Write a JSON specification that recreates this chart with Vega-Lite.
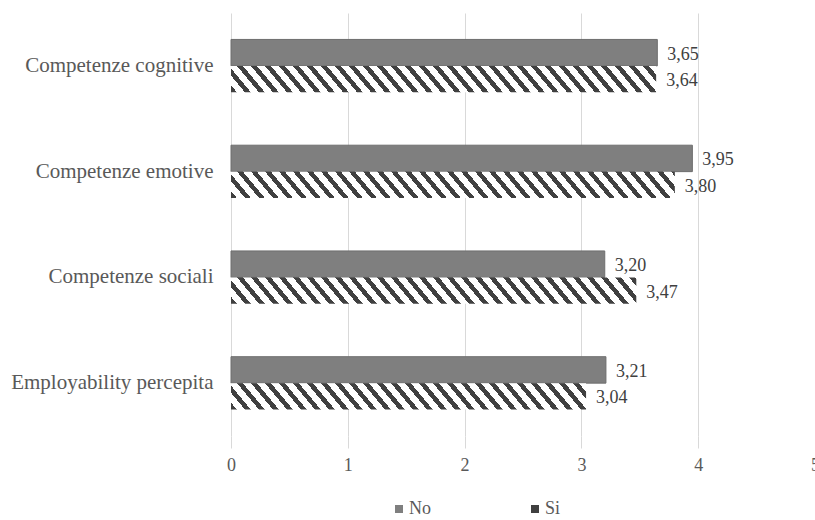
{
"$schema": "https://vega.github.io/schema/vega-lite/v6.json",
"width": 584, "height": 423,
"autosize": {"type": "none"},
"padding": {"left": 231, "top": 13, "right": 0, "bottom": 84},
"background": "white",
"config": {"view": {"stroke": null}, "font": "Times New Roman",
 "locale": {"number": {"decimal": ",", "thousands": ".", "grouping": [3], "currency": ["", " €"]}}},
"data": {"values": [
 {"cat": "Competenze cognitive", "group": "No", "value": 3.65},
 {"cat": "Competenze cognitive", "group": "Si", "value": 3.64},
 {"cat": "Competenze emotive", "group": "No", "value": 3.95},
 {"cat": "Competenze emotive", "group": "Si", "value": 3.80},
 {"cat": "Competenze sociali", "group": "No", "value": 3.20},
 {"cat": "Competenze sociali", "group": "Si", "value": 3.47},
 {"cat": "Employability percepita", "group": "No", "value": 3.21},
 {"cat": "Employability percepita", "group": "Si", "value": 3.04}
]},
"encoding": {
 "y": {"field": "cat", "type": "nominal", "sort": ["Competenze cognitive", "Competenze emotive", "Competenze sociali", "Employability percepita"],
  "scale": {"paddingInner": 0.5, "paddingOuter": 0.25},
  "axis": {"title": null, "domain": false, "ticks": false, "grid": false, "labelFont": "Times New Roman", "labelFontSize": 21, "labelColor": "#595959", "labelPadding": 18, "labelLimit": 300}},
 "yOffset": {"field": "group", "type": "nominal", "scale": {"domain": ["No", "Si"], "paddingInner": 0, "paddingOuter": 0}},
 "x": {"field": "value", "type": "quantitative", "scale": {"domain": [0, 5], "nice": false},
  "axis": {"title": null, "values": [0, 1, 2, 3, 4, 5], "domain": false, "tickColor": "#d9d9d9", "tickSize": 12, "gridColor": "#d9d9d9", "grid": true, "labelFont": "Times New Roman", "labelFontSize": 18, "labelColor": "#595959", "labelPadding": 8, "labelFlush": false, "labelOverlap": false}}
},
"layer": [
 {"transform": [{"filter": "datum.group === 'No'"}],
  "mark": {"type": "bar", "stroke": "#6e6e6e", "strokeWidth": 1},
  "encoding": {"color": {"field": "group", "type": "nominal", "scale": {"domain": ["No", "Si"], "range": ["#7f7f7f", "#404040"]},
   "legend": {"title": null, "orient": "none", "legendX": 159, "legendY": 487, "direction": "horizontal", "symbolSize": 64, "symbolStrokeWidth": 0, "labelFont": "Times New Roman", "labelFontSize": 18, "labelColor": "#595959", "labelOffset": 1, "columnPadding": 95,
    "encode": {"symbols": {"update": {"shape": {"signal": "datum.value === 'Si' ? 'M-0.3,-1L1,-1L1,0.3Z' : 'square'"}}}}}}}},
 {"transform": [{"filter": "datum.group === 'Si' && datum.cat === 'Competenze cognitive'"}],
  "mark": {"type": "bar", "fill": {"gradient": "linear", "x1": 0, "y1": 1, "x2": 1.049, "y2": 0.9456, "stops": [
{"offset":0,"color":"#404040"},{"offset":0.0131,"color":"#404040"},{"offset":0.0131,"color":"#fff"},{"offset":0.0313,"color":"#fff"},
{"offset":0.0313,"color":"#404040"},{"offset":0.0445,"color":"#404040"},{"offset":0.0445,"color":"#fff"},{"offset":0.0626,"color":"#fff"},
{"offset":0.0626,"color":"#404040"},{"offset":0.0758,"color":"#404040"},{"offset":0.0758,"color":"#fff"},{"offset":0.0939,"color":"#fff"},
{"offset":0.0939,"color":"#404040"},{"offset":0.1071,"color":"#404040"},{"offset":0.1071,"color":"#fff"},{"offset":0.1252,"color":"#fff"},
{"offset":0.1252,"color":"#404040"},{"offset":0.1384,"color":"#404040"},{"offset":0.1384,"color":"#fff"},{"offset":0.1565,"color":"#fff"},
{"offset":0.1565,"color":"#404040"},{"offset":0.1697,"color":"#404040"},{"offset":0.1697,"color":"#fff"},{"offset":0.1878,"color":"#fff"},
{"offset":0.1878,"color":"#404040"},{"offset":0.2010,"color":"#404040"},{"offset":0.2010,"color":"#fff"},{"offset":0.2191,"color":"#fff"},
{"offset":0.2191,"color":"#404040"},{"offset":0.2323,"color":"#404040"},{"offset":0.2323,"color":"#fff"},{"offset":0.2505,"color":"#fff"},
{"offset":0.2505,"color":"#404040"},{"offset":0.2636,"color":"#404040"},{"offset":0.2636,"color":"#fff"},{"offset":0.2818,"color":"#fff"},
{"offset":0.2818,"color":"#404040"},{"offset":0.2949,"color":"#404040"},{"offset":0.2949,"color":"#fff"},{"offset":0.3131,"color":"#fff"},
{"offset":0.3131,"color":"#404040"},{"offset":0.3262,"color":"#404040"},{"offset":0.3262,"color":"#fff"},{"offset":0.3444,"color":"#fff"},
{"offset":0.3444,"color":"#404040"},{"offset":0.3575,"color":"#404040"},{"offset":0.3575,"color":"#fff"},{"offset":0.3757,"color":"#fff"},
{"offset":0.3757,"color":"#404040"},{"offset":0.3888,"color":"#404040"},{"offset":0.3888,"color":"#fff"},{"offset":0.4070,"color":"#fff"},
{"offset":0.4070,"color":"#404040"},{"offset":0.4201,"color":"#404040"},{"offset":0.4201,"color":"#fff"},{"offset":0.4383,"color":"#fff"},
{"offset":0.4383,"color":"#404040"},{"offset":0.4514,"color":"#404040"},{"offset":0.4514,"color":"#fff"},{"offset":0.4696,"color":"#fff"},
{"offset":0.4696,"color":"#404040"},{"offset":0.4828,"color":"#404040"},{"offset":0.4828,"color":"#fff"},{"offset":0.5009,"color":"#fff"},
{"offset":0.5009,"color":"#404040"},{"offset":0.5141,"color":"#404040"},{"offset":0.5141,"color":"#fff"},{"offset":0.5322,"color":"#fff"},
{"offset":0.5322,"color":"#404040"},{"offset":0.5454,"color":"#404040"},{"offset":0.5454,"color":"#fff"},{"offset":0.5635,"color":"#fff"},
{"offset":0.5635,"color":"#404040"},{"offset":0.5767,"color":"#404040"},{"offset":0.5767,"color":"#fff"},{"offset":0.5948,"color":"#fff"},
{"offset":0.5948,"color":"#404040"},{"offset":0.6080,"color":"#404040"},{"offset":0.6080,"color":"#fff"},{"offset":0.6261,"color":"#fff"},
{"offset":0.6261,"color":"#404040"},{"offset":0.6393,"color":"#404040"},{"offset":0.6393,"color":"#fff"},{"offset":0.6574,"color":"#fff"},
{"offset":0.6574,"color":"#404040"},{"offset":0.6706,"color":"#404040"},{"offset":0.6706,"color":"#fff"},{"offset":0.6888,"color":"#fff"},
{"offset":0.6888,"color":"#404040"},{"offset":0.7019,"color":"#404040"},{"offset":0.7019,"color":"#fff"},{"offset":0.7201,"color":"#fff"},
{"offset":0.7201,"color":"#404040"},{"offset":0.7332,"color":"#404040"},{"offset":0.7332,"color":"#fff"},{"offset":0.7514,"color":"#fff"},
{"offset":0.7514,"color":"#404040"},{"offset":0.7645,"color":"#404040"},{"offset":0.7645,"color":"#fff"},{"offset":0.7827,"color":"#fff"},
{"offset":0.7827,"color":"#404040"},{"offset":0.7958,"color":"#404040"},{"offset":0.7958,"color":"#fff"},{"offset":0.8140,"color":"#fff"},
{"offset":0.8140,"color":"#404040"},{"offset":0.8271,"color":"#404040"},{"offset":0.8271,"color":"#fff"},{"offset":0.8453,"color":"#fff"},
{"offset":0.8453,"color":"#404040"},{"offset":0.8584,"color":"#404040"},{"offset":0.8584,"color":"#fff"},{"offset":0.8766,"color":"#fff"},
{"offset":0.8766,"color":"#404040"},{"offset":0.8897,"color":"#404040"},{"offset":0.8897,"color":"#fff"},{"offset":0.9079,"color":"#fff"},
{"offset":0.9079,"color":"#404040"},{"offset":0.9211,"color":"#404040"},{"offset":0.9211,"color":"#fff"},{"offset":0.9392,"color":"#fff"},
{"offset":0.9392,"color":"#404040"},{"offset":0.9524,"color":"#404040"},{"offset":0.9524,"color":"#fff"},{"offset":0.9705,"color":"#fff"},
{"offset":0.9705,"color":"#404040"},{"offset":0.9837,"color":"#404040"},{"offset":0.9837,"color":"#fff"},{"offset":1,"color":"#fff"}
  ]}}},
 {"transform": [{"filter": "datum.group === 'Si' && datum.cat === 'Competenze emotive'"}],
  "mark": {"type": "bar", "fill": {"gradient": "linear", "x1": 0, "y1": 1, "x2": 1.0471, "y2": 0.948, "stops": [
{"offset":0,"color":"#404040"},{"offset":0.0126,"color":"#404040"},{"offset":0.0126,"color":"#fff"},{"offset":0.0301,"color":"#fff"},
{"offset":0.0301,"color":"#404040"},{"offset":0.0427,"color":"#404040"},{"offset":0.0427,"color":"#fff"},{"offset":0.0601,"color":"#fff"},
{"offset":0.0601,"color":"#404040"},{"offset":0.0727,"color":"#404040"},{"offset":0.0727,"color":"#fff"},{"offset":0.0902,"color":"#fff"},
{"offset":0.0902,"color":"#404040"},{"offset":0.1028,"color":"#404040"},{"offset":0.1028,"color":"#fff"},{"offset":0.1202,"color":"#fff"},
{"offset":0.1202,"color":"#404040"},{"offset":0.1328,"color":"#404040"},{"offset":0.1328,"color":"#fff"},{"offset":0.1503,"color":"#fff"},
{"offset":0.1503,"color":"#404040"},{"offset":0.1629,"color":"#404040"},{"offset":0.1629,"color":"#fff"},{"offset":0.1803,"color":"#fff"},
{"offset":0.1803,"color":"#404040"},{"offset":0.1929,"color":"#404040"},{"offset":0.1929,"color":"#fff"},{"offset":0.2104,"color":"#fff"},
{"offset":0.2104,"color":"#404040"},{"offset":0.2230,"color":"#404040"},{"offset":0.2230,"color":"#fff"},{"offset":0.2404,"color":"#fff"},
{"offset":0.2404,"color":"#404040"},{"offset":0.2530,"color":"#404040"},{"offset":0.2530,"color":"#fff"},{"offset":0.2705,"color":"#fff"},
{"offset":0.2705,"color":"#404040"},{"offset":0.2831,"color":"#404040"},{"offset":0.2831,"color":"#fff"},{"offset":0.3005,"color":"#fff"},
{"offset":0.3005,"color":"#404040"},{"offset":0.3131,"color":"#404040"},{"offset":0.3131,"color":"#fff"},{"offset":0.3306,"color":"#fff"},
{"offset":0.3306,"color":"#404040"},{"offset":0.3432,"color":"#404040"},{"offset":0.3432,"color":"#fff"},{"offset":0.3606,"color":"#fff"},
{"offset":0.3606,"color":"#404040"},{"offset":0.3732,"color":"#404040"},{"offset":0.3732,"color":"#fff"},{"offset":0.3907,"color":"#fff"},
{"offset":0.3907,"color":"#404040"},{"offset":0.4033,"color":"#404040"},{"offset":0.4033,"color":"#fff"},{"offset":0.4207,"color":"#fff"},
{"offset":0.4207,"color":"#404040"},{"offset":0.4333,"color":"#404040"},{"offset":0.4333,"color":"#fff"},{"offset":0.4508,"color":"#fff"},
{"offset":0.4508,"color":"#404040"},{"offset":0.4634,"color":"#404040"},{"offset":0.4634,"color":"#fff"},{"offset":0.4808,"color":"#fff"},
{"offset":0.4808,"color":"#404040"},{"offset":0.4934,"color":"#404040"},{"offset":0.4934,"color":"#fff"},{"offset":0.5109,"color":"#fff"},
{"offset":0.5109,"color":"#404040"},{"offset":0.5235,"color":"#404040"},{"offset":0.5235,"color":"#fff"},{"offset":0.5409,"color":"#fff"},
{"offset":0.5409,"color":"#404040"},{"offset":0.5535,"color":"#404040"},{"offset":0.5535,"color":"#fff"},{"offset":0.5710,"color":"#fff"},
{"offset":0.5710,"color":"#404040"},{"offset":0.5836,"color":"#404040"},{"offset":0.5836,"color":"#fff"},{"offset":0.6010,"color":"#fff"},
{"offset":0.6010,"color":"#404040"},{"offset":0.6136,"color":"#404040"},{"offset":0.6136,"color":"#fff"},{"offset":0.6311,"color":"#fff"},
{"offset":0.6311,"color":"#404040"},{"offset":0.6437,"color":"#404040"},{"offset":0.6437,"color":"#fff"},{"offset":0.6611,"color":"#fff"},
{"offset":0.6611,"color":"#404040"},{"offset":0.6737,"color":"#404040"},{"offset":0.6737,"color":"#fff"},{"offset":0.6912,"color":"#fff"},
{"offset":0.6912,"color":"#404040"},{"offset":0.7038,"color":"#404040"},{"offset":0.7038,"color":"#fff"},{"offset":0.7212,"color":"#fff"},
{"offset":0.7212,"color":"#404040"},{"offset":0.7338,"color":"#404040"},{"offset":0.7338,"color":"#fff"},{"offset":0.7513,"color":"#fff"},
{"offset":0.7513,"color":"#404040"},{"offset":0.7639,"color":"#404040"},{"offset":0.7639,"color":"#fff"},{"offset":0.7813,"color":"#fff"},
{"offset":0.7813,"color":"#404040"},{"offset":0.7939,"color":"#404040"},{"offset":0.7939,"color":"#fff"},{"offset":0.8114,"color":"#fff"},
{"offset":0.8114,"color":"#404040"},{"offset":0.8240,"color":"#404040"},{"offset":0.8240,"color":"#fff"},{"offset":0.8414,"color":"#fff"},
{"offset":0.8414,"color":"#404040"},{"offset":0.8540,"color":"#404040"},{"offset":0.8540,"color":"#fff"},{"offset":0.8715,"color":"#fff"},
{"offset":0.8715,"color":"#404040"},{"offset":0.8841,"color":"#404040"},{"offset":0.8841,"color":"#fff"},{"offset":0.9015,"color":"#fff"},
{"offset":0.9015,"color":"#404040"},{"offset":0.9141,"color":"#404040"},{"offset":0.9141,"color":"#fff"},{"offset":0.9316,"color":"#fff"},
{"offset":0.9316,"color":"#404040"},{"offset":0.9442,"color":"#404040"},{"offset":0.9442,"color":"#fff"},{"offset":0.9616,"color":"#fff"},
{"offset":0.9616,"color":"#404040"},{"offset":0.9742,"color":"#404040"},{"offset":0.9742,"color":"#fff"},{"offset":0.9917,"color":"#fff"},
{"offset":0.9917,"color":"#404040"},{"offset":1,"color":"#404040"}
  ]}}},
 {"transform": [{"filter": "datum.group === 'Si' && datum.cat === 'Competenze sociali'"}],
  "mark": {"type": "bar", "fill": {"gradient": "linear", "x1": 0, "y1": 1, "x2": 1.0513, "y2": 0.9429, "stops": [
{"offset":0,"color":"#404040"},{"offset":0.0138,"color":"#404040"},{"offset":0.0138,"color":"#fff"},{"offset":0.0328,"color":"#fff"},
{"offset":0.0328,"color":"#404040"},{"offset":0.0465,"color":"#404040"},{"offset":0.0465,"color":"#fff"},{"offset":0.0655,"color":"#fff"},
{"offset":0.0655,"color":"#404040"},{"offset":0.0793,"color":"#404040"},{"offset":0.0793,"color":"#fff"},{"offset":0.0983,"color":"#fff"},
{"offset":0.0983,"color":"#404040"},{"offset":0.1120,"color":"#404040"},{"offset":0.1120,"color":"#fff"},{"offset":0.1310,"color":"#fff"},
{"offset":0.1310,"color":"#404040"},{"offset":0.1448,"color":"#404040"},{"offset":0.1448,"color":"#fff"},{"offset":0.1638,"color":"#fff"},
{"offset":0.1638,"color":"#404040"},{"offset":0.1776,"color":"#404040"},{"offset":0.1776,"color":"#fff"},{"offset":0.1966,"color":"#fff"},
{"offset":0.1966,"color":"#404040"},{"offset":0.2103,"color":"#404040"},{"offset":0.2103,"color":"#fff"},{"offset":0.2293,"color":"#fff"},
{"offset":0.2293,"color":"#404040"},{"offset":0.2431,"color":"#404040"},{"offset":0.2431,"color":"#fff"},{"offset":0.2621,"color":"#fff"},
{"offset":0.2621,"color":"#404040"},{"offset":0.2759,"color":"#404040"},{"offset":0.2759,"color":"#fff"},{"offset":0.2949,"color":"#fff"},
{"offset":0.2949,"color":"#404040"},{"offset":0.3086,"color":"#404040"},{"offset":0.3086,"color":"#fff"},{"offset":0.3276,"color":"#fff"},
{"offset":0.3276,"color":"#404040"},{"offset":0.3414,"color":"#404040"},{"offset":0.3414,"color":"#fff"},{"offset":0.3604,"color":"#fff"},
{"offset":0.3604,"color":"#404040"},{"offset":0.3741,"color":"#404040"},{"offset":0.3741,"color":"#fff"},{"offset":0.3931,"color":"#fff"},
{"offset":0.3931,"color":"#404040"},{"offset":0.4069,"color":"#404040"},{"offset":0.4069,"color":"#fff"},{"offset":0.4259,"color":"#fff"},
{"offset":0.4259,"color":"#404040"},{"offset":0.4397,"color":"#404040"},{"offset":0.4397,"color":"#fff"},{"offset":0.4587,"color":"#fff"},
{"offset":0.4587,"color":"#404040"},{"offset":0.4724,"color":"#404040"},{"offset":0.4724,"color":"#fff"},{"offset":0.4914,"color":"#fff"},
{"offset":0.4914,"color":"#404040"},{"offset":0.5052,"color":"#404040"},{"offset":0.5052,"color":"#fff"},{"offset":0.5242,"color":"#fff"},
{"offset":0.5242,"color":"#404040"},{"offset":0.5380,"color":"#404040"},{"offset":0.5380,"color":"#fff"},{"offset":0.5570,"color":"#fff"},
{"offset":0.5570,"color":"#404040"},{"offset":0.5707,"color":"#404040"},{"offset":0.5707,"color":"#fff"},{"offset":0.5897,"color":"#fff"},
{"offset":0.5897,"color":"#404040"},{"offset":0.6035,"color":"#404040"},{"offset":0.6035,"color":"#fff"},{"offset":0.6225,"color":"#fff"},
{"offset":0.6225,"color":"#404040"},{"offset":0.6362,"color":"#404040"},{"offset":0.6362,"color":"#fff"},{"offset":0.6552,"color":"#fff"},
{"offset":0.6552,"color":"#404040"},{"offset":0.6690,"color":"#404040"},{"offset":0.6690,"color":"#fff"},{"offset":0.6880,"color":"#fff"},
{"offset":0.6880,"color":"#404040"},{"offset":0.7018,"color":"#404040"},{"offset":0.7018,"color":"#fff"},{"offset":0.7208,"color":"#fff"},
{"offset":0.7208,"color":"#404040"},{"offset":0.7345,"color":"#404040"},{"offset":0.7345,"color":"#fff"},{"offset":0.7535,"color":"#fff"},
{"offset":0.7535,"color":"#404040"},{"offset":0.7673,"color":"#404040"},{"offset":0.7673,"color":"#fff"},{"offset":0.7863,"color":"#fff"},
{"offset":0.7863,"color":"#404040"},{"offset":0.8001,"color":"#404040"},{"offset":0.8001,"color":"#fff"},{"offset":0.8191,"color":"#fff"},
{"offset":0.8191,"color":"#404040"},{"offset":0.8328,"color":"#404040"},{"offset":0.8328,"color":"#fff"},{"offset":0.8518,"color":"#fff"},
{"offset":0.8518,"color":"#404040"},{"offset":0.8656,"color":"#404040"},{"offset":0.8656,"color":"#fff"},{"offset":0.8846,"color":"#fff"},
{"offset":0.8846,"color":"#404040"},{"offset":0.8983,"color":"#404040"},{"offset":0.8983,"color":"#fff"},{"offset":0.9173,"color":"#fff"},
{"offset":0.9173,"color":"#404040"},{"offset":0.9311,"color":"#404040"},{"offset":0.9311,"color":"#fff"},{"offset":0.9501,"color":"#fff"},
{"offset":0.9501,"color":"#404040"},{"offset":0.9639,"color":"#404040"},{"offset":0.9639,"color":"#fff"},{"offset":0.9829,"color":"#fff"},
{"offset":0.9829,"color":"#404040"},{"offset":0.9966,"color":"#404040"},{"offset":0.9966,"color":"#fff"},{"offset":1,"color":"#fff"}
  ]}}},
 {"transform": [{"filter": "datum.group === 'Si' && datum.cat === 'Employability percepita'"}],
  "mark": {"type": "bar", "fill": {"gradient": "linear", "x1": 0, "y1": 1, "x2": 1.058, "y2": 0.9344, "stops": [
{"offset":0,"color":"#404040"},{"offset":0.0156,"color":"#404040"},{"offset":0.0156,"color":"#fff"},{"offset":0.0371,"color":"#fff"},
{"offset":0.0371,"color":"#404040"},{"offset":0.0527,"color":"#404040"},{"offset":0.0527,"color":"#fff"},{"offset":0.0743,"color":"#fff"},
{"offset":0.0743,"color":"#404040"},{"offset":0.0898,"color":"#404040"},{"offset":0.0898,"color":"#fff"},{"offset":0.1114,"color":"#fff"},
{"offset":0.1114,"color":"#404040"},{"offset":0.1270,"color":"#404040"},{"offset":0.1270,"color":"#fff"},{"offset":0.1485,"color":"#fff"},
{"offset":0.1485,"color":"#404040"},{"offset":0.1641,"color":"#404040"},{"offset":0.1641,"color":"#fff"},{"offset":0.1856,"color":"#fff"},
{"offset":0.1856,"color":"#404040"},{"offset":0.2012,"color":"#404040"},{"offset":0.2012,"color":"#fff"},{"offset":0.2228,"color":"#fff"},
{"offset":0.2228,"color":"#404040"},{"offset":0.2383,"color":"#404040"},{"offset":0.2383,"color":"#fff"},{"offset":0.2599,"color":"#fff"},
{"offset":0.2599,"color":"#404040"},{"offset":0.2755,"color":"#404040"},{"offset":0.2755,"color":"#fff"},{"offset":0.2970,"color":"#fff"},
{"offset":0.2970,"color":"#404040"},{"offset":0.3126,"color":"#404040"},{"offset":0.3126,"color":"#fff"},{"offset":0.3341,"color":"#fff"},
{"offset":0.3341,"color":"#404040"},{"offset":0.3497,"color":"#404040"},{"offset":0.3497,"color":"#fff"},{"offset":0.3713,"color":"#fff"},
{"offset":0.3713,"color":"#404040"},{"offset":0.3868,"color":"#404040"},{"offset":0.3868,"color":"#fff"},{"offset":0.4084,"color":"#fff"},
{"offset":0.4084,"color":"#404040"},{"offset":0.4240,"color":"#404040"},{"offset":0.4240,"color":"#fff"},{"offset":0.4455,"color":"#fff"},
{"offset":0.4455,"color":"#404040"},{"offset":0.4611,"color":"#404040"},{"offset":0.4611,"color":"#fff"},{"offset":0.4826,"color":"#fff"},
{"offset":0.4826,"color":"#404040"},{"offset":0.4982,"color":"#404040"},{"offset":0.4982,"color":"#fff"},{"offset":0.5198,"color":"#fff"},
{"offset":0.5198,"color":"#404040"},{"offset":0.5353,"color":"#404040"},{"offset":0.5353,"color":"#fff"},{"offset":0.5569,"color":"#fff"},
{"offset":0.5569,"color":"#404040"},{"offset":0.5725,"color":"#404040"},{"offset":0.5725,"color":"#fff"},{"offset":0.5940,"color":"#fff"},
{"offset":0.5940,"color":"#404040"},{"offset":0.6096,"color":"#404040"},{"offset":0.6096,"color":"#fff"},{"offset":0.6311,"color":"#fff"},
{"offset":0.6311,"color":"#404040"},{"offset":0.6467,"color":"#404040"},{"offset":0.6467,"color":"#fff"},{"offset":0.6683,"color":"#fff"},
{"offset":0.6683,"color":"#404040"},{"offset":0.6838,"color":"#404040"},{"offset":0.6838,"color":"#fff"},{"offset":0.7054,"color":"#fff"},
{"offset":0.7054,"color":"#404040"},{"offset":0.7210,"color":"#404040"},{"offset":0.7210,"color":"#fff"},{"offset":0.7425,"color":"#fff"},
{"offset":0.7425,"color":"#404040"},{"offset":0.7581,"color":"#404040"},{"offset":0.7581,"color":"#fff"},{"offset":0.7796,"color":"#fff"},
{"offset":0.7796,"color":"#404040"},{"offset":0.7952,"color":"#404040"},{"offset":0.7952,"color":"#fff"},{"offset":0.8168,"color":"#fff"},
{"offset":0.8168,"color":"#404040"},{"offset":0.8323,"color":"#404040"},{"offset":0.8323,"color":"#fff"},{"offset":0.8539,"color":"#fff"},
{"offset":0.8539,"color":"#404040"},{"offset":0.8695,"color":"#404040"},{"offset":0.8695,"color":"#fff"},{"offset":0.8910,"color":"#fff"},
{"offset":0.8910,"color":"#404040"},{"offset":0.9066,"color":"#404040"},{"offset":0.9066,"color":"#fff"},{"offset":0.9281,"color":"#fff"},
{"offset":0.9281,"color":"#404040"},{"offset":0.9437,"color":"#404040"},{"offset":0.9437,"color":"#fff"},{"offset":0.9653,"color":"#fff"},
{"offset":0.9653,"color":"#404040"},{"offset":0.9808,"color":"#404040"},{"offset":0.9808,"color":"#fff"},{"offset":1,"color":"#fff"}
  ]}}},
 {"mark": {"type": "text", "align": "left", "baseline": "middle", "dx": 10, "dy": 2, "font": "Times New Roman", "fontSize": 18, "color": "#404040"},
  "encoding": {"text": {"field": "value", "type": "quantitative", "format": ".2f"}}}
]
}
